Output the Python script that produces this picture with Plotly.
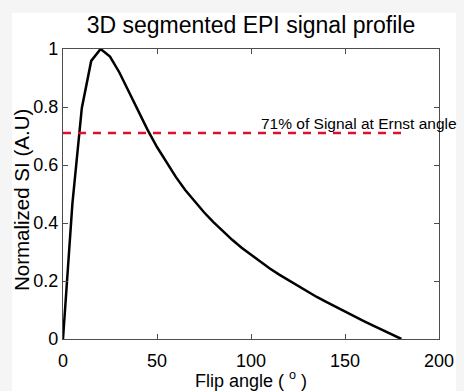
import plotly.graph_objects as go

# Flip angle (degrees) and normalized signal
flip_angle = [0, 5, 10, 15, 20, 25, 30, 35, 40, 45, 50, 55, 60, 65, 70, 75, 80, 85, 90,
              95, 100, 105, 110, 115, 120, 125, 130, 135, 140, 145, 150, 155, 160, 165,
              170, 175, 180]
signal = [0.0, 0.467, 0.796, 0.959, 1.0, 0.974, 0.919, 0.852, 0.785, 0.721, 0.662,
          0.608, 0.559, 0.514, 0.474, 0.437, 0.403, 0.371, 0.342, 0.315, 0.290, 0.266,
          0.243, 0.222, 0.202, 0.182, 0.163, 0.145, 0.128, 0.111, 0.094, 0.078, 0.062,
          0.046, 0.031, 0.015, 0.0]

ref_x = [0, 180]
ref_y = [0.71, 0.71]
ref_label = "71% of Signal at Ernst angle"

x_ticks = [0, 50, 100, 150, 200]
x_ticktext = ["0", "50", "100", "150", "200"]
y_ticks = [0, 0.2, 0.4, 0.6, 0.8, 1]
y_ticktext = ["0", "0.2", "0.4", "0.6", "0.8", "1"]

title_text = "3D segmented EPI signal profile"
x_title = "Flip angle ( <sup>o</sup> )"
y_title = "Normalized SI (A.U)"

FONT = "Liberation Sans, Arial, sans-serif"
AX = "#4d4d4d"

fig = go.Figure()
fig.add_trace(go.Scatter(x=flip_angle, y=signal, mode="lines",
                         line=dict(color="black", width=2.5), showlegend=False))
fig.add_trace(go.Scatter(x=ref_x, y=ref_y, mode="lines",
                         line=dict(color="#dc1030", width=2.5, dash="8px,7px"),
                         showlegend=False))

W, H = 464, 391
L, R, T, B = 63, 25, 49, 52
pw, ph = W - L - R, H - T - B

fig.update_layout(
    width=W, height=H,
    margin=dict(l=L, r=R, t=T, b=B, autoexpand=False),
    paper_bgcolor="#f5f5f5",
    plot_bgcolor="white",
    font=dict(family=FONT, size=18, color="black"),
    title=dict(text=title_text, x=251 / W, xanchor="center",
               y=1 - 25 / H, yanchor="middle",
               font=dict(family=FONT, size=23, color="black")),
    xaxis=dict(range=[0, 200], tickvals=x_ticks, ticktext=x_ticktext,
               showgrid=False, zeroline=False, showline=True, linecolor=AX,
               linewidth=1.3, mirror="ticks", ticks="inside", ticklen=5,
               tickcolor=AX, tickwidth=1.2, tickfont=dict(size=18, family=FONT),
               ticklabelstandoff=5,
               title=dict(text=x_title, font=dict(size=18, family=FONT), standoff=4)),
    yaxis=dict(range=[0, 1], tickvals=y_ticks, ticktext=y_ticktext,
               showgrid=False, zeroline=False, showline=True, linecolor=AX,
               linewidth=1.3, mirror="ticks", ticks="inside", ticklen=5,
               tickcolor=AX, tickwidth=1.2, tickfont=dict(size=18, family=FONT),
               ticklabelstandoff=0),
    shapes=[dict(type="rect", xref="paper", yref="paper",
                 x0=(12 - L) / pw, x1=(456 - L) / pw,
                 y0=-0.25, y1=(H - B - 13) / ph,
                 fillcolor="white", line=dict(width=0), layer="below")],
    annotations=[
        dict(x=104, y=0.71, xref="x", yref="y", text=ref_label, showarrow=False,
             xanchor="left", yanchor="middle", yshift=10,
             font=dict(family=FONT, size=15.5, color="black")),
        dict(x=(21 - L) / pw, y=(H - B - 200) / ph, xref="paper", yref="paper",
             text=y_title, showarrow=False, textangle=-90,
             xanchor="center", yanchor="middle",
             font=dict(family=FONT, size=20.5, color="black")),
    ],
)

fig.write_html("out.html")
